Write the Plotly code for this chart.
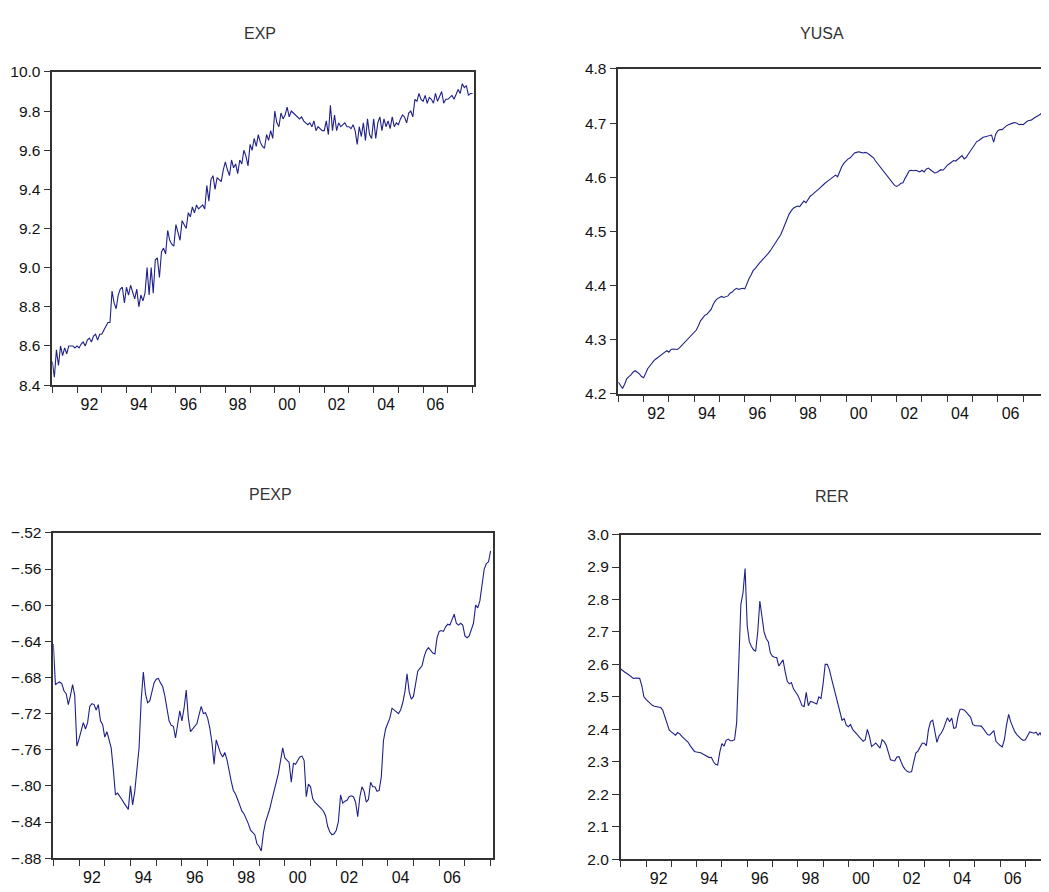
import plotly.graph_objects as go

# ---------------- data (monthly, 1991M01 .. 2008M01) ----------------
start_year = 1991
n_months = 205

exp_vals = [
    8.52, 8.44, 8.58, 8.50, 8.60, 8.55, 8.59, 8.56, 8.60, 8.60, 8.60, 8.59,
    8.60, 8.59, 8.61, 8.62, 8.60, 8.63, 8.64, 8.62, 8.65, 8.66, 8.63, 8.66,
    8.66, 8.68, 8.70, 8.72, 8.72, 8.88, 8.82, 8.79, 8.86, 8.89, 8.90, 8.82,
    8.90, 8.86, 8.91, 8.88, 8.84, 8.89, 8.80, 8.86, 8.83, 8.87, 9.00, 8.86,
    9.00, 8.87, 9.04, 9.05, 8.95, 9.08, 9.10, 9.07, 9.19, 9.14, 9.12, 9.11,
    9.22, 9.18, 9.14, 9.24, 9.22, 9.20, 9.28, 9.26, 9.31, 9.28, 9.32, 9.30,
    9.31, 9.32, 9.30, 9.42, 9.34, 9.45, 9.47, 9.40, 9.46, 9.45, 9.44, 9.50,
    9.54, 9.50, 9.47, 9.55, 9.51, 9.53, 9.48, 9.55, 9.53, 9.60, 9.57, 9.52,
    9.63, 9.60, 9.66, 9.62, 9.68, 9.64, 9.62, 9.61, 9.68, 9.65, 9.70, 9.66,
    9.80, 9.74, 9.72, 9.79, 9.76, 9.78, 9.82, 9.77, 9.80, 9.79, 9.78, 9.77,
    9.76, 9.77, 9.75, 9.74, 9.73, 9.74, 9.72, 9.75, 9.70, 9.72, 9.71, 9.70,
    9.70, 9.75, 9.68, 9.83, 9.70, 9.78, 9.70, 9.74, 9.72, 9.73, 9.74, 9.72,
    9.72, 9.71, 9.73, 9.70, 9.63, 9.72, 9.67, 9.74, 9.65, 9.76, 9.68, 9.66,
    9.76, 9.66, 9.74, 9.77, 9.70, 9.76, 9.72, 9.75, 9.71, 9.77, 9.72, 9.74,
    9.73, 9.76, 9.78, 9.77, 9.74, 9.79, 9.80, 9.77, 9.86, 9.85, 9.89, 9.86,
    9.85, 9.88, 9.84, 9.87, 9.86, 9.84, 9.89, 9.85, 9.88, 9.90, 9.84, 9.86,
    9.86, 9.87, 9.88, 9.86, 9.89, 9.91, 9.89, 9.94, 9.92, 9.93, 9.88, 9.89,
    9.89,
]

yusa_vals = [
    4.222, 4.215, 4.210, 4.218, 4.228, 4.232, 4.235, 4.240, 4.243, 4.240, 4.237, 4.232,
    4.230, 4.238, 4.247, 4.252, 4.258, 4.262, 4.265, 4.268, 4.270, 4.274, 4.277, 4.280,
    4.277, 4.282, 4.283, 4.282, 4.282, 4.285, 4.289, 4.292, 4.296, 4.300, 4.304, 4.309,
    4.313, 4.318, 4.326, 4.335, 4.340, 4.345, 4.347, 4.352, 4.356, 4.365, 4.372, 4.376,
    4.378, 4.380, 4.378, 4.380, 4.381, 4.386, 4.388, 4.392, 4.395, 4.393, 4.394, 4.395,
    4.394, 4.405, 4.413, 4.420, 4.428, 4.432, 4.438, 4.442, 4.446, 4.450, 4.455, 4.459,
    4.464, 4.470, 4.477, 4.482, 4.488, 4.494, 4.503, 4.513, 4.522, 4.532, 4.538, 4.543,
    4.545, 4.547, 4.546, 4.552, 4.556, 4.553, 4.560, 4.565, 4.568, 4.572, 4.575, 4.578,
    4.582, 4.586, 4.589, 4.592, 4.595, 4.598, 4.600, 4.604, 4.601, 4.612, 4.620, 4.626,
    4.630, 4.634, 4.636, 4.640, 4.645, 4.646, 4.647, 4.646, 4.645, 4.646, 4.645, 4.642,
    4.639, 4.636, 4.630, 4.625, 4.620, 4.614, 4.608, 4.603, 4.598, 4.594, 4.590, 4.585,
    4.583, 4.585, 4.589, 4.590, 4.598, 4.604, 4.612, 4.613, 4.612, 4.613, 4.612, 4.610,
    4.613, 4.610, 4.615, 4.617, 4.614, 4.610, 4.608, 4.609, 4.612, 4.614, 4.613, 4.618,
    4.622, 4.625, 4.628, 4.631, 4.630, 4.634, 4.636, 4.640, 4.634, 4.637, 4.643, 4.649,
    4.655, 4.660, 4.666, 4.668, 4.671, 4.674, 4.675, 4.676, 4.677, 4.678, 4.665, 4.680,
    4.686, 4.688, 4.688, 4.692, 4.695, 4.697, 4.699, 4.700, 4.701, 4.700, 4.697, 4.698,
    4.697, 4.700, 4.704, 4.705, 4.706, 4.709, 4.711, 4.713, 4.716, 4.719, 4.722, 4.724,
    4.726,
]

pexp_vals = [
    -0.643, -0.688, -0.686, -0.685, -0.687, -0.695, -0.698, -0.710, -0.700, -0.688, -0.700, -0.756,
    -0.748, -0.738, -0.730, -0.737, -0.730, -0.712, -0.709, -0.710, -0.716, -0.710, -0.728, -0.732,
    -0.746, -0.740, -0.748, -0.758, -0.782, -0.810, -0.808, -0.811, -0.815, -0.819, -0.823, -0.826,
    -0.800, -0.821, -0.806, -0.785, -0.758, -0.705, -0.674, -0.698, -0.708, -0.706, -0.697, -0.686,
    -0.682, -0.681, -0.686, -0.690, -0.700, -0.716, -0.728, -0.733, -0.734, -0.747, -0.730, -0.717,
    -0.728, -0.714, -0.694, -0.725, -0.740, -0.737, -0.735, -0.731, -0.721, -0.712, -0.720, -0.719,
    -0.725, -0.736, -0.752, -0.776, -0.749, -0.758, -0.764, -0.768, -0.763, -0.771, -0.784, -0.795,
    -0.805, -0.809, -0.815, -0.822, -0.828, -0.831, -0.836, -0.842, -0.849, -0.851, -0.854, -0.864,
    -0.867, -0.872, -0.852, -0.840, -0.833, -0.825, -0.815, -0.806, -0.796, -0.786, -0.772, -0.758,
    -0.769, -0.771, -0.774, -0.796, -0.775, -0.776, -0.772, -0.768, -0.767, -0.772, -0.812, -0.798,
    -0.801, -0.814, -0.818, -0.820, -0.822, -0.825, -0.828, -0.833, -0.845, -0.851, -0.854, -0.853,
    -0.849, -0.839, -0.810, -0.819, -0.817, -0.816, -0.812, -0.811, -0.812, -0.818, -0.834, -0.812,
    -0.801, -0.806, -0.818, -0.815, -0.796, -0.801, -0.801, -0.806, -0.805, -0.790, -0.750, -0.737,
    -0.731, -0.725, -0.714, -0.716, -0.719, -0.720, -0.716, -0.708, -0.696, -0.676, -0.696, -0.704,
    -0.701, -0.688, -0.673, -0.670, -0.667, -0.657, -0.650, -0.647, -0.650, -0.653, -0.654, -0.636,
    -0.629, -0.628, -0.629, -0.624, -0.621, -0.622, -0.616, -0.610, -0.620, -0.622, -0.620, -0.622,
    -0.634, -0.636, -0.634, -0.628, -0.620, -0.600, -0.603, -0.595, -0.575, -0.560, -0.554, -0.552,
    -0.540,
]

rer_vals = [
    2.586, 2.580, 2.576, 2.572, 2.566, 2.560, 2.557, 2.558, 2.558, 2.557, 2.535, 2.500,
    2.492, 2.486, 2.478, 2.474, 2.471, 2.470, 2.468, 2.467, 2.458, 2.440, 2.420, 2.398,
    2.392, 2.388, 2.382, 2.390, 2.386, 2.378, 2.372, 2.368, 2.360, 2.349, 2.340, 2.332,
    2.330, 2.329, 2.328, 2.324, 2.320, 2.316, 2.313, 2.314, 2.300, 2.292, 2.290, 2.330,
    2.356, 2.348, 2.366, 2.370, 2.365, 2.365, 2.368, 2.420, 2.600, 2.785, 2.820, 2.895,
    2.720, 2.670, 2.655, 2.645, 2.640, 2.700, 2.795, 2.740, 2.700, 2.680, 2.670, 2.635,
    2.625, 2.622, 2.621, 2.595, 2.604, 2.614, 2.578, 2.548, 2.540, 2.544, 2.524, 2.516,
    2.505, 2.490, 2.473, 2.470, 2.514, 2.473, 2.486, 2.484, 2.481, 2.478, 2.500, 2.495,
    2.540, 2.600, 2.600, 2.584, 2.556, 2.530, 2.503, 2.482, 2.455, 2.428, 2.433, 2.413,
    2.408, 2.415, 2.400, 2.393, 2.385, 2.380, 2.372, 2.363, 2.368, 2.400, 2.378, 2.347,
    2.352, 2.358, 2.350, 2.342, 2.368, 2.362, 2.350, 2.330, 2.306, 2.304, 2.303, 2.315,
    2.316, 2.300, 2.285, 2.276, 2.270, 2.268, 2.270, 2.300, 2.327, 2.333, 2.345, 2.357,
    2.357, 2.350, 2.400, 2.424, 2.428, 2.398, 2.360, 2.380, 2.388, 2.400, 2.420, 2.436,
    2.423, 2.435, 2.403, 2.405, 2.440, 2.462, 2.462, 2.459, 2.452, 2.446, 2.437, 2.415,
    2.411, 2.411, 2.411, 2.410, 2.402, 2.393, 2.384, 2.382, 2.390, 2.396, 2.363, 2.356,
    2.350, 2.346, 2.368, 2.413, 2.446, 2.423, 2.405, 2.392, 2.383, 2.375, 2.370, 2.366,
    2.368, 2.380, 2.392, 2.390, 2.388, 2.391, 2.382, 2.390, 2.372, 2.368, 2.370, 2.368,
    2.370,
]

titles = ["EXP", "YUSA", "PEXP", "RER"]

x_label_vals = [1992.5, 1994.5, 1996.5, 1998.5, 2000.5, 2002.5, 2004.5, 2006.5]
x_label_text = ["92", "94", "96", "98", "00", "02", "04", "06"]
year_ticks = list(range(1991, 2009))

exp_ticks = [8.4, 8.6, 8.8, 9.0, 9.2, 9.4, 9.6, 9.8, 10.0]
exp_labels = ["8.4", "8.6", "8.8", "9.0", "9.2", "9.4", "9.6", "9.8", "10.0"]
yusa_ticks = [4.2, 4.3, 4.4, 4.5, 4.6, 4.7, 4.8]
yusa_labels = ["4.2", "4.3", "4.4", "4.5", "4.6", "4.7", "4.8"]
pexp_ticks = [-0.88, -0.84, -0.80, -0.76, -0.72, -0.68, -0.64, -0.60, -0.56, -0.52]
pexp_labels = ["\u2212.88", "\u2212.84", "\u2212.80", "\u2212.76", "\u2212.72",
               "\u2212.68", "\u2212.64", "\u2212.60", "\u2212.56", "\u2212.52"]
rer_ticks = [2.0, 2.1, 2.2, 2.3, 2.4, 2.5, 2.6, 2.7, 2.8, 2.9, 3.0]
rer_labels = ["2.0", "2.1", "2.2", "2.3", "2.4", "2.5", "2.6", "2.7", "2.8", "2.9", "3.0"]

# ---------------- layout geometry ----------------
# The default HTML page has an 8px body margin, so the figure is drawn
# 8px right/down of the window corner; positions below are window pixels.
OFF = 8
W, H = 1049 - OFF, 892 - OFF
def fx(px):
    return (px - OFF) / W
def fy(py):
    return 1 - (py - OFF) / H

x_time = [start_year + i / 12 for i in range(n_months)]

LINE = "#20208a"
AXIS = "#333333"
FONT = "Liberation Sans, Arial, sans-serif"

panels = [
    # values, x domain px, y domain px (top, bottom), x range end, y ticks, labels, y range, mirror y
    (exp_vals, (52.3, 474.3), (64.0, 383.3), 2008.07, exp_ticks, exp_labels, (8.4, 10.0), True),
    (yusa_vals, (618.3, 1049.0), (61.0, 392.3), 2008.02, yusa_ticks, yusa_labels, (4.2, 4.8), False),
    (pexp_vals, (53.3, 492.7), (534.0, 865.7), 2008.08, pexp_ticks, pexp_labels, (-0.88, -0.52), True),
    (rer_vals, (620.7, 1049.0), (535.7, 866.7), 2007.93, rer_ticks, rer_labels, (2.0, 3.0), False),
]

fig = go.Figure()
layout = dict(
    width=W, height=H,
    margin=dict(l=0, r=0, t=0, b=0),
    paper_bgcolor="white", plot_bgcolor="white",
    showlegend=False,
    font=dict(family=FONT, color="#111111"),
)

for k, (vals, xd, yd, xend, yt, yl, yr, mir) in enumerate(panels):
    sfx = "" if k == 0 else str(k + 1)
    fig.add_trace(go.Scatter(
        x=x_time, y=vals, mode="lines",
        line=dict(color=LINE, width=1.1),
        xaxis="x" + sfx, yaxis="y" + sfx, hoverinfo="skip",
    ))
    layout["xaxis" + sfx] = dict(
        domain=[fx(xd[0]), min(1.0, fx(xd[1]))],
        anchor="y" + sfx,
        range=[start_year, xend],
        tickmode="array", tickvals=x_label_vals, ticktext=x_label_text,
        ticks="outside", ticklen=4, tickcolor="rgba(0,0,0,0)",
        minor=dict(tickmode="array", tickvals=year_ticks, ticks="outside",
                   ticklen=6, tickwidth=1.3, tickcolor=AXIS, showgrid=False),
        showgrid=False, zeroline=False,
        showline=True, linecolor=AXIS, linewidth=1.5, mirror=True,
        tickfont=dict(size=16, color="#111111"),
    )
    layout["yaxis" + sfx] = dict(
        domain=[fy(yd[1]), fy(yd[0])],
        anchor="x" + sfx,
        range=list(yr),
        tickmode="array", tickvals=yt, ticktext=yl,
        ticks="outside", ticklen=7, tickwidth=1.3, tickcolor=AXIS,
        showgrid=False, zeroline=False,
        showline=True, linecolor=AXIS, linewidth=1.5, mirror=mir,
        tickfont=dict(size=15.5, color="#111111"),
    )

title_pos = [(260, 25), (822, 25), (270, 495), (832, 497)]
layout["annotations"] = [
    dict(text=t, x=fx(px), y=fy(py), xref="paper", yref="paper",
         showarrow=False, xanchor="center", yanchor="middle",
         font=dict(family=FONT, size=16, color="#333333"))
    for t, (px, py) in zip(titles, title_pos)
]

fig.update_layout(**layout)
fig.write_html("out.html")
